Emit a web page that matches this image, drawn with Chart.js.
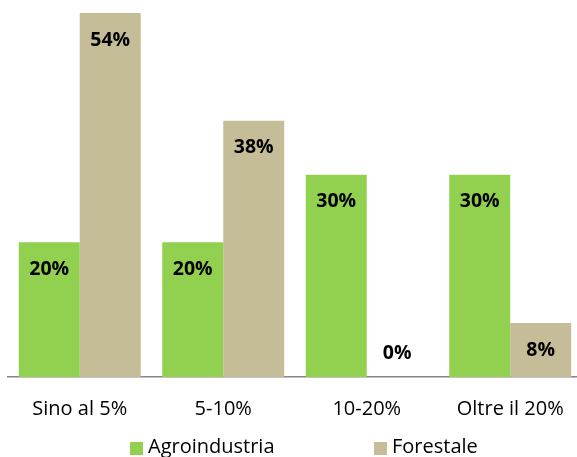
<!DOCTYPE html>
<html><head><meta charset="utf-8">
<script src="https://cdn.jsdelivr.net/npm/chart.js@4/dist/chart.umd.min.js"></script>
<style>html,body{margin:0;padding:0;overflow:hidden;background:#fff;width:577px;height:457px}canvas{display:block}</style>
</head><body>
<canvas id="c" width="584" height="457"></canvas>
<script>
const categories = ["Sino al 5%", "5-10%", "10-20%", "Oltre il 20%"];
const seriesNames = ["Agroindustria", "Forestale"];
const agroindustria = [20, 20, 30, 30];
const forestale = [54, 38, 0, 8];
const colors = ["#92D050", "#C4BD97"];
const FONT = "'Open Sans', sans-serif";

const labelPlugin = {
  id: 'barLabels',
  afterDatasetsDraw(chart) {
    const ctx = chart.ctx;
    ctx.save();
    ctx.font = "bold 19.5px " + FONT;
    ctx.fillStyle = "#000";
    ctx.textAlign = "center";
    ctx.textBaseline = "middle";
    const base = chart.scales.y.getPixelForValue(0);
    chart.data.datasets.forEach((ds, di) => {
      chart.getDatasetMeta(di).data.forEach((bar, i) => {
        const v = ds.data[i];
        const y = v === 0 ? base - 24 : bar.y + 27;
        ctx.fillText(v + "%", bar.x, y);
      });
    });
    ctx.restore();
  }
};

const legendPlugin = {
  id: 'customLegend',
  afterDraw(chart) {
    const ctx = chart.ctx;
    ctx.save();
    ctx.font = "20px " + FONT;
    ctx.textBaseline = "middle";
    ctx.textAlign = "left";
    const xs = [130, 374];
    const y = 446;
    seriesNames.forEach((n, i) => {
      ctx.fillStyle = colors[i];
      ctx.fillRect(xs[i], y - 4, 13, 13);
      ctx.fillStyle = "#000";
      ctx.fillText(n, xs[i] + 18, y + 1);
    });
    ctx.restore();
  }
};

new Chart(document.getElementById('c'), {
  type: 'bar',
  data: {
    labels: categories,
    datasets: [
      { label: seriesNames[0], data: agroindustria, backgroundColor: colors[0], barPercentage: 1, categoryPercentage: 0.85 },
      { label: seriesNames[1], data: forestale, backgroundColor: colors[1], barPercentage: 1, categoryPercentage: 0.85 }
    ]
  },
  options: {
    responsive: false,
    animation: false,
    layout: { padding: { left: 8, right: 2, top: 13, bottom: 0 } },
    plugins: { legend: { display: false }, tooltip: { enabled: false } },
    scales: {
      y: { display: false, min: 0, max: 54 },
      x: {
        grid: { display: false, drawTicks: false },
        border: { display: true, color: "#868686", width: 1.5 },
        ticks: { color: "#000", font: { family: FONT, size: 20 }, padding: 20, maxRotation: 0 },
        afterFit(s) { s.height = 80; }
      }
    }
  },
  plugins: [labelPlugin, legendPlugin]
});
</script>
</body></html>
